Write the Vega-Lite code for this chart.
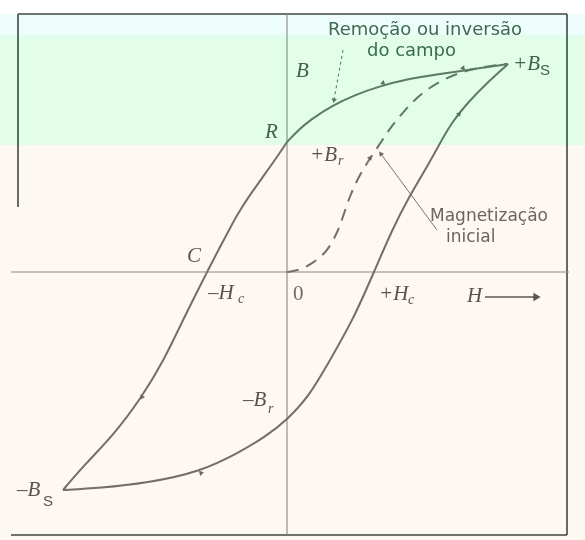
{
  "$schema": "https://vega.github.io/schema/vega-lite/v6.json",
  "description": "Ciclo de histerese magnética: curva B versus H com magnetização inicial, remanência e coercividade.",
  "width": 585,
  "height": 540,
  "autosize": {"type": "none"},
  "padding": 0,
  "background": "#fdf8f1",
  "config": {"view": {"stroke": null}},
  "datasets": {
    "bands": [
      {"band": "white", "h1": -7.175, "h2": 7.45, "b1": 6.8, "b2": 6.45},
      {"band": "cyan", "h1": -7.175, "h2": 7.45, "b1": 6.45, "b2": 5.925},
      {"band": "green", "h1": -7.175, "h2": 7.45, "b1": 5.925, "b2": 3.175}
    ],
    "tint": [
      {"h1": -7.175, "h2": 7.45, "b1": 5.925, "b2": 3.175}
    ],
    "guides": [
      {"kind": "frame", "h1": -6.725, "h2": 7.0, "b1": 6.45, "b2": 6.45},
      {"kind": "frame", "h1": -6.725, "h2": -6.725, "b1": 6.45, "b2": 1.625},
      {"kind": "frame", "h1": 7.0, "h2": 7.0, "b1": 6.45, "b2": -6.575},
      {"kind": "frame", "h1": -6.9, "h2": 7.0, "b1": -6.575, "b2": -6.575},
      {"kind": "axis", "h1": -6.9, "h2": 7.05, "b1": 0, "b2": 0},
      {"kind": "axis", "h1": 0, "h2": 0, "b1": 6.45, "b2": -6.575},
      {"kind": "arrow", "h1": 4.95, "h2": 6.2, "b1": -0.625, "b2": -0.625},
      {"kind": "dotted", "h1": 1.4, "h2": 1.175, "b1": 5.55, "b2": 4.3},
      {"kind": "leader", "h1": 3.75, "h2": 2.35, "b1": 1.05, "b2": 2.95}
    ],
    "loop": [
      {"branch": "upper", "H": 5.525, "B": 5.2},
      {"branch": "upper", "H": 4.575, "B": 5.06},
      {"branch": "upper", "H": 3.825, "B": 4.95},
      {"branch": "upper", "H": 3.075, "B": 4.84},
      {"branch": "upper", "H": 2.25, "B": 4.625},
      {"branch": "upper", "H": 1.7, "B": 4.425},
      {"branch": "upper", "H": 1.15, "B": 4.175},
      {"branch": "upper", "H": 0.575, "B": 3.8},
      {"branch": "upper", "H": 0.3, "B": 3.56},
      {"branch": "upper", "H": 0, "B": 3.25},
      {"branch": "descending", "H": 0, "B": 3.25},
      {"branch": "descending", "H": -0.3, "B": 2.8},
      {"branch": "descending", "H": -0.625, "B": 2.35},
      {"branch": "descending", "H": -0.925, "B": 1.925},
      {"branch": "descending", "H": -1.175, "B": 1.55},
      {"branch": "descending", "H": -1.425, "B": 1.1},
      {"branch": "descending", "H": -1.675, "B": 0.625},
      {"branch": "descending", "H": -2.0, "B": 0},
      {"branch": "descending", "H": -2.3, "B": -0.6},
      {"branch": "descending", "H": -2.6, "B": -1.2},
      {"branch": "descending", "H": -3.075, "B": -2.2},
      {"branch": "descending", "H": -3.625, "B": -3.125},
      {"branch": "descending", "H": -4.375, "B": -4.125},
      {"branch": "descending", "H": -5.025, "B": -4.775},
      {"branch": "descending", "H": -5.6, "B": -5.45},
      {"branch": "ascending", "H": -5.6, "B": -5.45},
      {"branch": "ascending", "H": -4.675, "B": -5.4},
      {"branch": "ascending", "H": -3.5, "B": -5.275},
      {"branch": "ascending", "H": -2.175, "B": -5.0},
      {"branch": "ascending", "H": -1.175, "B": -4.5},
      {"branch": "ascending", "H": -0.55, "B": -4.125},
      {"branch": "ascending", "H": 0, "B": -3.7},
      {"branch": "ascending", "H": 0.575, "B": -3.075},
      {"branch": "ascending", "H": 1.075, "B": -2.2},
      {"branch": "ascending", "H": 1.65, "B": -1.2},
      {"branch": "ascending", "H": 2.175, "B": 0},
      {"branch": "ascending", "H": 2.625, "B": 1.05},
      {"branch": "ascending", "H": 3.05, "B": 1.875},
      {"branch": "ascending", "H": 3.425, "B": 2.5},
      {"branch": "ascending", "H": 3.775, "B": 3.125},
      {"branch": "ascending", "H": 4.1, "B": 3.72},
      {"branch": "ascending", "H": 4.575, "B": 4.3},
      {"branch": "ascending", "H": 5.075, "B": 4.8},
      {"branch": "ascending", "H": 5.525, "B": 5.2},
      {"branch": "initial", "H": 0, "B": 0},
      {"branch": "initial", "H": 0.325, "B": 0.05},
      {"branch": "initial", "H": 0.65, "B": 0.225},
      {"branch": "initial", "H": 1.0, "B": 0.5},
      {"branch": "initial", "H": 1.25, "B": 0.975},
      {"branch": "initial", "H": 1.375, "B": 1.3},
      {"branch": "initial", "H": 1.575, "B": 1.925},
      {"branch": "initial", "H": 1.875, "B": 2.55},
      {"branch": "initial", "H": 2.275, "B": 3.125},
      {"branch": "initial", "H": 2.575, "B": 3.6},
      {"branch": "initial", "H": 2.95, "B": 4.05},
      {"branch": "initial", "H": 3.325, "B": 4.45},
      {"branch": "initial", "H": 3.9, "B": 4.825},
      {"branch": "initial", "H": 4.5, "B": 5.05},
      {"branch": "initial", "H": 5.075, "B": 5.15},
      {"branch": "initial", "H": 5.525, "B": 5.2}
    ],
    "heads": [
      {"H": 4.4, "B": 5.1, "dir": 262},
      {"H": 2.4, "B": 4.725, "dir": 250},
      {"H": 4.3, "B": 3.95, "dir": 40},
      {"H": -2.15, "B": -5.025, "dir": 76},
      {"H": -3.625, "B": -3.125, "dir": 210},
      {"H": 2.075, "B": 2.85, "dir": 33},
      {"H": 1.175, "B": 4.3, "dir": 190},
      {"H": 2.35, "B": 2.95, "dir": 324}
    ],
    "axisHead": [
      {"H": 6.25, "B": -0.625}
    ],
    "labels": [
      {"style": "it", "label": "B", "H": 0.225, "B": 4.875},
      {"style": "it", "label": "R", "H": -0.55, "B": 3.35},
      {"style": "it", "label": "+B", "H": 5.65, "B": 5.05},
      {"style": "it", "label": "+B", "H": 0.575, "B": 2.775},
      {"style": "it", "label": "C", "H": -2.5, "B": 0.25},
      {"style": "it", "label": "–H", "H": -1.975, "B": -0.675},
      {"style": "it", "label": "+H", "H": 2.3, "B": -0.7},
      {"style": "it", "label": "H", "H": 4.5, "B": -0.75},
      {"style": "it", "label": "–B", "H": -1.1, "B": -3.35},
      {"style": "it", "label": "–B", "H": -6.75, "B": -5.6},
      {"style": "num", "label": "0", "H": 0.15, "B": -0.7},
      {"style": "sub", "label": "r", "H": 1.275, "B": 2.675},
      {"style": "sub", "label": "r", "H": -0.475, "B": -3.525},
      {"style": "sub", "label": "c", "H": -1.225, "B": -0.775},
      {"style": "sub", "label": "c", "H": 3.025, "B": -0.8},
      {"style": "subS", "label": "S", "H": 6.325, "B": 4.925},
      {"style": "subS", "label": "S", "H": -6.1, "B": -5.85},
      {"style": "noteTop", "label": "Remoção ou inversão", "H": 1.025, "B": 5.925},
      {"style": "noteTop", "label": "do campo", "H": 2.0, "B": 5.4},
      {"style": "note", "label": "Magnetização", "H": 3.575, "B": 1.275},
      {"style": "note", "label": "inicial", "H": 3.975, "B": 0.76}
    ]
  },
  "layer": [
    {
      "data": {"name": "bands"},
      "mark": {"type": "rect"},
      "encoding": {
        "x": {"field": "h1", "type": "quantitative", "scale": {"domain": [-7.175, 7.45], "nice": false, "zero": false}, "axis": null},
        "x2": {"field": "h2"},
        "y": {"field": "b1", "type": "quantitative", "scale": {"domain": [-6.7, 6.8], "nice": false, "zero": false}, "axis": null},
        "y2": {"field": "b2"},
        "color": {"field": "band", "type": "nominal", "scale": {"domain": ["white", "cyan", "green"], "range": ["#ffffff", "#ecfdfb", "#e9f9ee"]}, "legend": null}
      }
    },
    {
      "data": {"name": "guides"},
      "transform": [{"filter": "datum.kind === 'frame'"}],
      "mark": {"type": "rule", "color": "#3f4742", "strokeWidth": 1.6},
      "encoding": {
        "x": {"field": "h1", "type": "quantitative", "scale": {"domain": [-7.175, 7.45], "nice": false, "zero": false}, "axis": null},
        "x2": {"field": "h2"},
        "y": {"field": "b1", "type": "quantitative", "scale": {"domain": [-6.7, 6.8], "nice": false, "zero": false}, "axis": null},
        "y2": {"field": "b2"}
      }
    },
    {
      "data": {"name": "guides"},
      "transform": [{"filter": "datum.kind === 'axis'"}],
      "mark": {"type": "rule", "color": "#8f8585", "strokeWidth": 1.1},
      "encoding": {
        "x": {"field": "h1", "type": "quantitative", "scale": {"domain": [-7.175, 7.45], "nice": false, "zero": false}, "axis": null},
        "x2": {"field": "h2"},
        "y": {"field": "b1", "type": "quantitative", "scale": {"domain": [-6.7, 6.8], "nice": false, "zero": false}, "axis": null},
        "y2": {"field": "b2"}
      }
    },
    {
      "data": {"name": "guides"},
      "transform": [{"filter": "datum.kind === 'arrow'"}],
      "mark": {"type": "rule", "color": "#5a5454", "strokeWidth": 1.5},
      "encoding": {
        "x": {"field": "h1", "type": "quantitative", "scale": {"domain": [-7.175, 7.45], "nice": false, "zero": false}, "axis": null},
        "x2": {"field": "h2"},
        "y": {"field": "b1", "type": "quantitative", "scale": {"domain": [-6.7, 6.8], "nice": false, "zero": false}, "axis": null},
        "y2": {"field": "b2"}
      }
    },
    {
      "data": {"name": "guides"},
      "transform": [{"filter": "datum.kind === 'dotted'"}],
      "mark": {"type": "rule", "color": "#5f6e64", "strokeWidth": 1, "strokeDash": [3, 3]},
      "encoding": {
        "x": {"field": "h1", "type": "quantitative", "scale": {"domain": [-7.175, 7.45], "nice": false, "zero": false}, "axis": null},
        "x2": {"field": "h2"},
        "y": {"field": "b1", "type": "quantitative", "scale": {"domain": [-6.7, 6.8], "nice": false, "zero": false}, "axis": null},
        "y2": {"field": "b2"}
      }
    },
    {
      "data": {"name": "guides"},
      "transform": [{"filter": "datum.kind === 'leader'"}],
      "mark": {"type": "rule", "color": "#7d7373", "strokeWidth": 1},
      "encoding": {
        "x": {"field": "h1", "type": "quantitative", "scale": {"domain": [-7.175, 7.45], "nice": false, "zero": false}, "axis": null},
        "x2": {"field": "h2"},
        "y": {"field": "b1", "type": "quantitative", "scale": {"domain": [-6.7, 6.8], "nice": false, "zero": false}, "axis": null},
        "y2": {"field": "b2"}
      }
    },
    {
      "data": {"name": "loop"},
      "transform": [{"filter": "datum.branch !== 'initial'"}],
      "mark": {"type": "line", "interpolate": "basis", "color": "#776b6b", "strokeWidth": 2},
      "encoding": {
        "x": {"field": "H", "type": "quantitative", "scale": {"domain": [-7.175, 7.45], "nice": false, "zero": false}, "axis": null},
        "y": {"field": "B", "type": "quantitative", "scale": {"domain": [-6.7, 6.8], "nice": false, "zero": false}, "axis": null},
        "detail": {"field": "branch"},
        "order": {"value": null}
      }
    },
    {
      "data": {"name": "loop"},
      "transform": [{"filter": "datum.branch === 'initial'"}],
      "mark": {"type": "line", "interpolate": "basis", "color": "#776b6b", "strokeWidth": 2, "strokeDash": [12, 8]},
      "encoding": {
        "x": {"field": "H", "type": "quantitative", "scale": {"domain": [-7.175, 7.45], "nice": false, "zero": false}, "axis": null},
        "y": {"field": "B", "type": "quantitative", "scale": {"domain": [-6.7, 6.8], "nice": false, "zero": false}, "axis": null},
        "order": {"value": null}
      }
    },
    {
      "data": {"name": "heads"},
      "mark": {"type": "point", "shape": "triangle", "filled": true, "size": 28, "color": "#6f6464", "opacity": 1},
      "encoding": {
        "x": {"field": "H", "type": "quantitative", "scale": {"domain": [-7.175, 7.45], "nice": false, "zero": false}, "axis": null},
        "y": {"field": "B", "type": "quantitative", "scale": {"domain": [-6.7, 6.8], "nice": false, "zero": false}, "axis": null},
        "angle": {"field": "dir", "type": "quantitative", "scale": null}
      }
    },
    {
      "data": {"name": "axisHead"},
      "mark": {"type": "point", "shape": "triangle-right", "filled": true, "size": 70, "color": "#5a5454", "opacity": 1},
      "encoding": {
        "x": {"field": "H", "type": "quantitative", "scale": {"domain": [-7.175, 7.45], "nice": false, "zero": false}, "axis": null},
        "y": {"field": "B", "type": "quantitative", "scale": {"domain": [-6.7, 6.8], "nice": false, "zero": false}, "axis": null}
      }
    },
    {
      "data": {"name": "labels"},
      "transform": [{"filter": "datum.style === 'it'"}],
      "mark": {"type": "text", "font": "Liberation Serif", "fontStyle": "italic", "fontSize": 21, "align": "left", "baseline": "alphabetic", "color": "#5a5252"},
      "encoding": {
        "x": {"field": "H", "type": "quantitative", "scale": {"domain": [-7.175, 7.45], "nice": false, "zero": false}, "axis": null},
        "y": {"field": "B", "type": "quantitative", "scale": {"domain": [-6.7, 6.8], "nice": false, "zero": false}, "axis": null},
        "text": {"field": "label"}
      }
    },
    {
      "data": {"name": "labels"},
      "transform": [{"filter": "datum.style === 'num'"}],
      "mark": {"type": "text", "font": "Liberation Serif", "fontSize": 21, "align": "left", "baseline": "alphabetic", "color": "#6f6868"},
      "encoding": {
        "x": {"field": "H", "type": "quantitative", "scale": {"domain": [-7.175, 7.45], "nice": false, "zero": false}, "axis": null},
        "y": {"field": "B", "type": "quantitative", "scale": {"domain": [-6.7, 6.8], "nice": false, "zero": false}, "axis": null},
        "text": {"field": "label"}
      }
    },
    {
      "data": {"name": "labels"},
      "transform": [{"filter": "datum.style === 'sub'"}],
      "mark": {"type": "text", "font": "Liberation Serif", "fontStyle": "italic", "fontSize": 14, "align": "left", "baseline": "alphabetic", "color": "#5a5252"},
      "encoding": {
        "x": {"field": "H", "type": "quantitative", "scale": {"domain": [-7.175, 7.45], "nice": false, "zero": false}, "axis": null},
        "y": {"field": "B", "type": "quantitative", "scale": {"domain": [-6.7, 6.8], "nice": false, "zero": false}, "axis": null},
        "text": {"field": "label"}
      }
    },
    {
      "data": {"name": "labels"},
      "transform": [{"filter": "datum.style === 'subS'"}],
      "mark": {"type": "text", "font": "Liberation Sans", "fontSize": 15, "align": "left", "baseline": "alphabetic", "color": "#5a5252"},
      "encoding": {
        "x": {"field": "H", "type": "quantitative", "scale": {"domain": [-7.175, 7.45], "nice": false, "zero": false}, "axis": null},
        "y": {"field": "B", "type": "quantitative", "scale": {"domain": [-6.7, 6.8], "nice": false, "zero": false}, "axis": null},
        "text": {"field": "label"}
      }
    },
    {
      "data": {"name": "labels"},
      "transform": [{"filter": "datum.style === 'noteTop'"}],
      "mark": {"type": "text", "font": "DejaVu Sans", "fontSize": 18, "align": "left", "baseline": "alphabetic", "color": "#3f6a4e"},
      "encoding": {
        "x": {"field": "H", "type": "quantitative", "scale": {"domain": [-7.175, 7.45], "nice": false, "zero": false}, "axis": null},
        "y": {"field": "B", "type": "quantitative", "scale": {"domain": [-6.7, 6.8], "nice": false, "zero": false}, "axis": null},
        "text": {"field": "label"}
      }
    },
    {
      "data": {"name": "labels"},
      "transform": [{"filter": "datum.style === 'note'"}],
      "mark": {"type": "text", "font": "DejaVu Sans", "fontSize": 17, "align": "left", "baseline": "alphabetic", "color": "#6a6464"},
      "encoding": {
        "x": {"field": "H", "type": "quantitative", "scale": {"domain": [-7.175, 7.45], "nice": false, "zero": false}, "axis": null},
        "y": {"field": "B", "type": "quantitative", "scale": {"domain": [-6.7, 6.8], "nice": false, "zero": false}, "axis": null},
        "text": {"field": "label"}
      }
    },
    {
      "data": {"name": "tint"},
      "mark": {"type": "rect", "color": "#4a7d5a", "blend": "color", "opacity": 0.6},
      "encoding": {
        "x": {"field": "h1", "type": "quantitative", "scale": {"domain": [-7.175, 7.45], "nice": false, "zero": false}, "axis": null},
        "x2": {"field": "h2"},
        "y": {"field": "b1", "type": "quantitative", "scale": {"domain": [-6.7, 6.8], "nice": false, "zero": false}, "axis": null},
        "y2": {"field": "b2"}
      }
    }
  ]
}
